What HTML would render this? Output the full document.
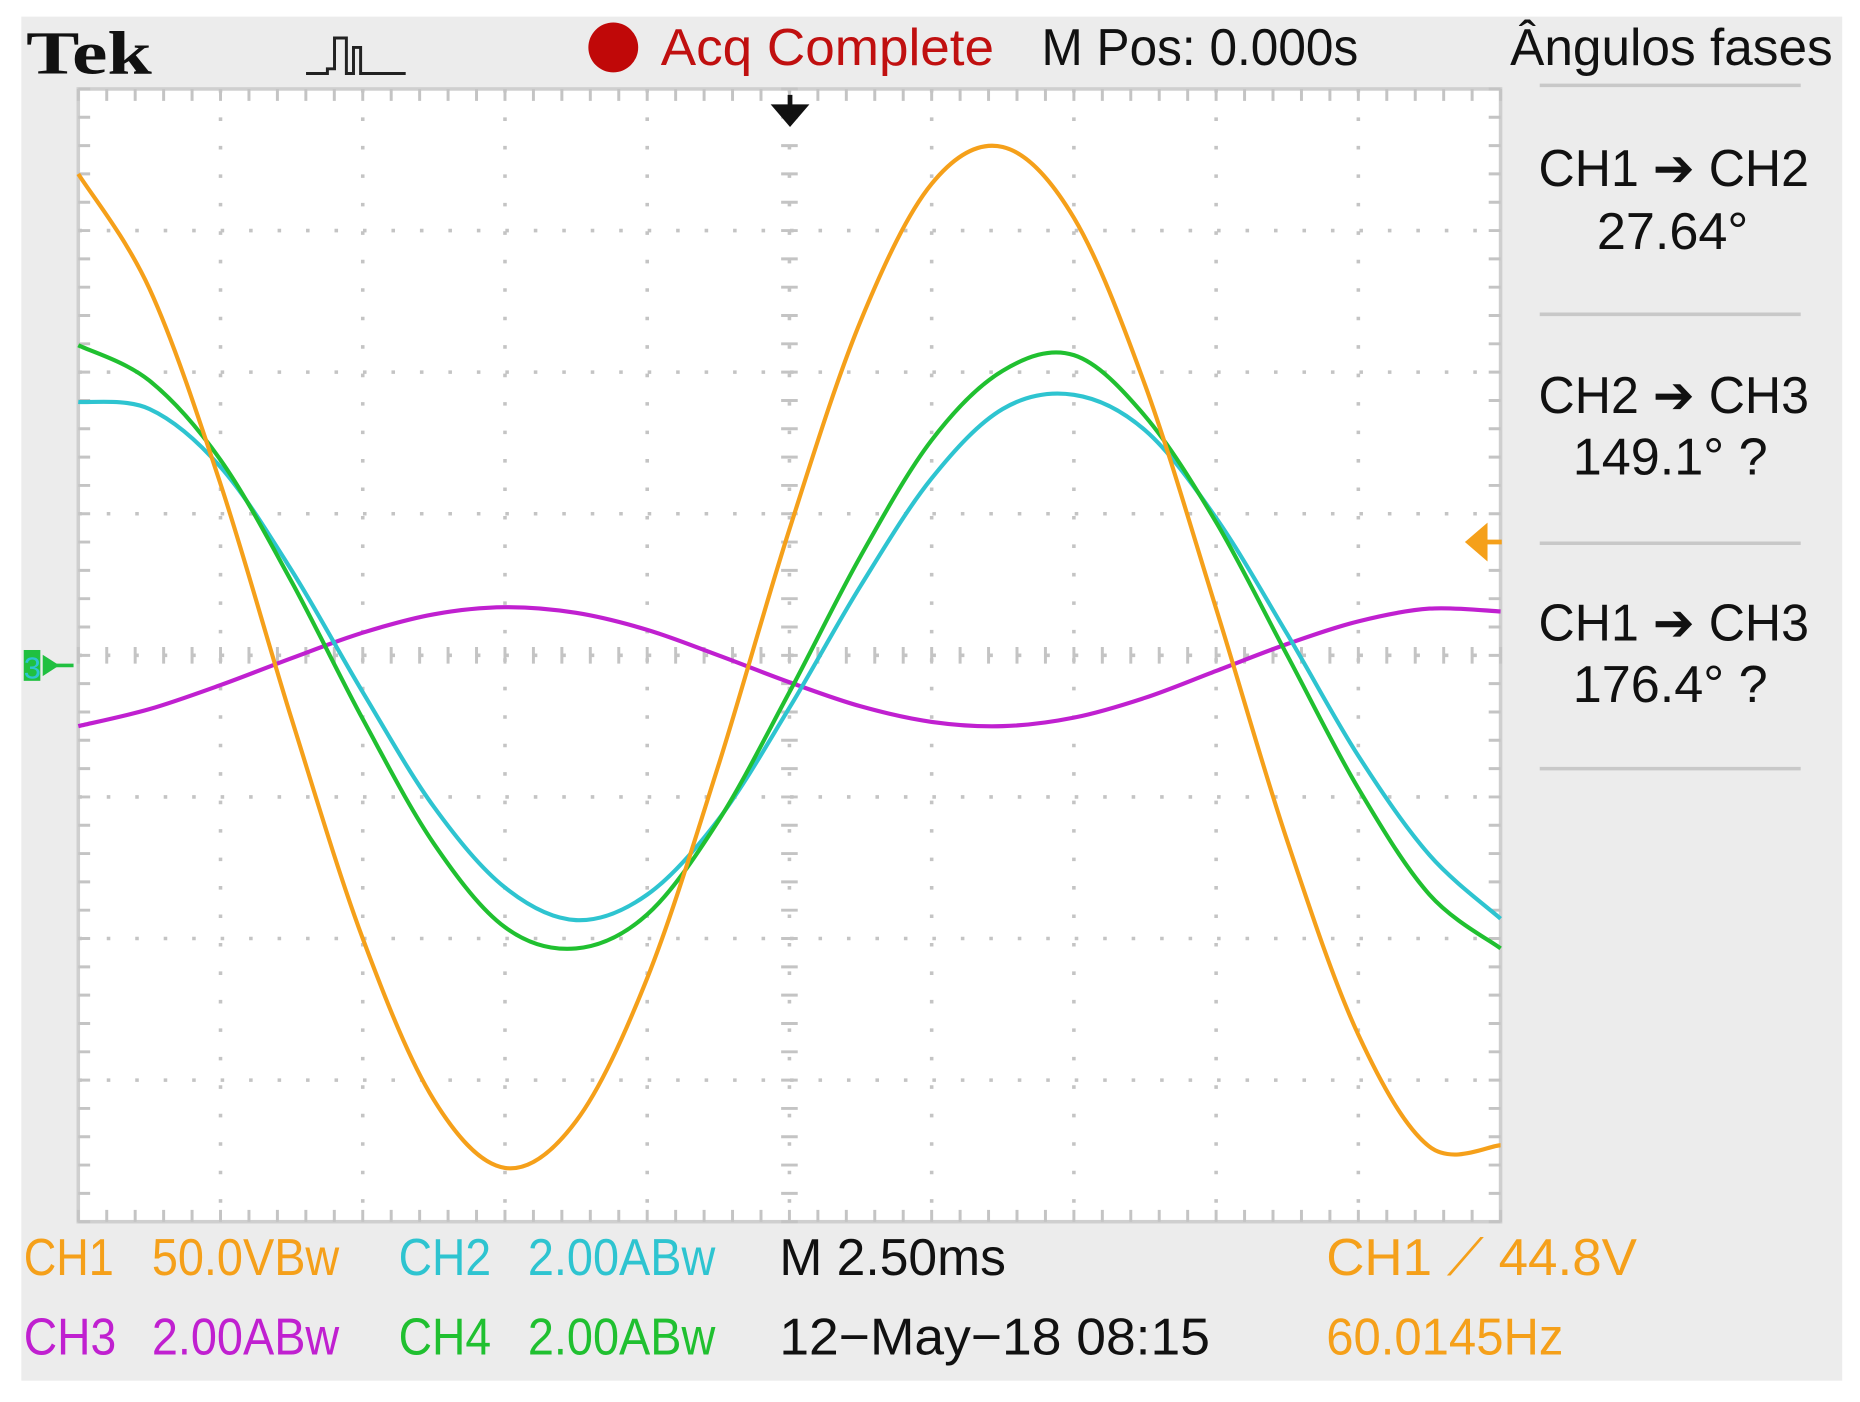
<!DOCTYPE html>
<html><head><meta charset="utf-8">
<style>
html,body{margin:0;padding:0;background:#fff;}
svg{display:block;}
text{font-family:"Liberation Sans Narrow","Liberation Sans",sans-serif;}
</style></head>
<body>
<svg id="scope" width="1860" height="1402" viewBox="0 0 1568 1182" preserveAspectRatio="none" xmlns="http://www.w3.org/2000/svg">
  <rect x="18" y="14" width="1535" height="1150" fill="#ececec"/>
  <rect x="66" y="75" width="1199" height="955" fill="#fff" stroke="#cfcfcf" stroke-width="3"/>
  <g id="grid"></g>
  <g id="traces"></g>

  <text x="22" y="62" font-family="Liberation Serif,serif" font-weight="bold" font-size="52" textLength="106" lengthAdjust="spacingAndGlyphs" fill="#111" style="font-family:'Liberation Serif',serif">Tek</text>
  <path d="M258 62 L276 62 L276 58 L282 58 L282 32 L292 32 L292 62 L298 62 L298 40 L304 40 L304 62 L342 62" fill="none" stroke="#222" stroke-width="2.5"/>
  <circle cx="517" cy="40" r="21" fill="#c00808"/>
  <text x="557" y="55" font-size="44" fill="#c01010" textLength="281" lengthAdjust="spacingAndGlyphs">Acq Complete</text>
  <text x="878" y="55" font-size="44" fill="#111" textLength="267" lengthAdjust="spacingAndGlyphs">M Pos: 0.000s</text>
  <text x="1273" y="55" font-size="44" fill="#111" textLength="272" lengthAdjust="spacingAndGlyphs">Ângulos fases</text>

  <g stroke="#c8c8c8" stroke-width="3">
    <line x1="1298" y1="72" x2="1518" y2="72"/>
    <line x1="1298" y1="265" x2="1518" y2="265"/>
    <line x1="1298" y1="458" x2="1518" y2="458"/>
    <line x1="1298" y1="648" x2="1518" y2="648"/>
  </g>
  <text x="1297" y="157" font-size="44" fill="#111" textLength="228" lengthAdjust="spacingAndGlyphs">CH1 ➔ CH2</text>
  <text x="1410" y="210" font-size="44" fill="#111" text-anchor="middle">27.64°</text>
  <text x="1297" y="348" font-size="44" fill="#111" textLength="228" lengthAdjust="spacingAndGlyphs">CH2 ➔ CH3</text>
  <text x="1408" y="400" font-size="44" fill="#111" text-anchor="middle">149.1° ?</text>
  <text x="1297" y="540" font-size="44" fill="#111" textLength="228" lengthAdjust="spacingAndGlyphs">CH1 ➔ CH3</text>
  <text x="1408" y="592" font-size="44" fill="#111" text-anchor="middle">176.4° ?</text>

  <path d="M666 80 L666 96 M654 90 L666 104 L678 90 Z" stroke="#111" stroke-width="4" fill="#111"/>
  <path d="M1238 457 L1252 445 L1252 469 Z M1250 457 L1266 457" stroke="#f5a01a" stroke-width="4" fill="#f5a01a"/>
  <g>
    <rect x="20" y="548" width="14" height="26" fill="#20c040"/>
    <path d="M36 552 L50 561 L36 570 Z" fill="#20c040"/>
    <line x1="44" y1="561" x2="62" y2="561" stroke="#20c040" stroke-width="3"/>
    <text x="20" y="572" font-size="26" fill="#2ec4d0">3</text>
  </g>

  <g font-size="44">
    <text x="20" y="1075" fill="#f5a01a" textLength="76" lengthAdjust="spacingAndGlyphs">CH1</text>
    <text x="128" y="1075" fill="#f5a01a" textLength="158" lengthAdjust="spacingAndGlyphs">50.0VBw</text>
    <text x="336" y="1075" fill="#2ec4d0" textLength="78" lengthAdjust="spacingAndGlyphs">CH2</text>
    <text x="445" y="1075" fill="#2ec4d0" textLength="158" lengthAdjust="spacingAndGlyphs">2.00ABw</text>
    <text x="657" y="1075" fill="#111" textLength="191" lengthAdjust="spacingAndGlyphs">M 2.50ms</text>
    <text x="1118" y="1075" fill="#f5a01a" textLength="262" lengthAdjust="spacingAndGlyphs">CH1 ⟋ 44.8V</text>
    <text x="20" y="1142" fill="#c020d0" textLength="78" lengthAdjust="spacingAndGlyphs">CH3</text>
    <text x="128" y="1142" fill="#c020d0" textLength="158" lengthAdjust="spacingAndGlyphs">2.00ABw</text>
    <text x="336" y="1142" fill="#20c030" textLength="78" lengthAdjust="spacingAndGlyphs">CH4</text>
    <text x="445" y="1142" fill="#20c030" textLength="158" lengthAdjust="spacingAndGlyphs">2.00ABw</text>
    <text x="657" y="1142" fill="#111" textLength="363" lengthAdjust="spacingAndGlyphs">12−May−18 08:15</text>
    <text x="1118" y="1142" fill="#f5a01a" textLength="200" lengthAdjust="spacingAndGlyphs">60.0145Hz</text>
  </g>
</svg>
<script>
// time in divisions (0..10), values in vertical divisions
const timeDivs = [0,0.5,1,1.5,2,2.5,3,3.5,4,4.5,5,5.5,6,6.5,7,7.5,8,8.5,9,9.5,10];
const ch1Values = [3.40,2.59,1.21,-0.45,-2.00,-3.14,-3.62,-3.29,-2.28,-0.78,0.89,2.36,3.33,3.59,3.09,1.91,0.33,-1.31,-2.68,-3.47,-3.46];
const ch2Values = [1.79,1.74,1.33,0.60,-0.26,-1.07,-1.64,-1.87,-1.69,-1.16,-0.37,0.49,1.25,1.74,1.84,1.59,0.97,0.15,-0.71,-1.41,-1.86];
const ch3Values = [-0.50,-0.38,-0.21,-0.02,0.16,0.29,0.34,0.30,0.18,0.00,-0.19,-0.36,-0.47,-0.50,-0.44,-0.30,-0.11,0.08,0.24,0.33,0.31];
const ch4Values = [2.19,1.94,1.38,0.52,-0.45,-1.33,-1.92,-2.07,-1.83,-1.17,-0.26,0.70,1.52,2.01,2.12,1.69,0.94,0.00,-0.94,-1.69,-2.07];

const NS = "http://www.w3.org/2000/svg";
const X0 = 66, X1 = 1265, Y0 = 75, Y1 = 1030;
const xScale = t => X0 + t * (X1 - X0) / 10;
const yScale = v => (Y0 + Y1) / 2 - v * (Y1 - Y0) / 8;

// graticule
const grid = document.getElementById('grid');
let d = '';
for (let i = 1; i < 10; i++) { d += `M${xScale(i)} ${Y0} L${xScale(i)} ${Y1} `; }
for (let j = 1; j < 8; j++) { const y = Y0 + j * (Y1 - Y0) / 8; d += `M${X0} ${y} L${X1} ${y} `; }
const gp = document.createElementNS(NS, 'path');
gp.setAttribute('d', d);
gp.setAttribute('stroke', '#c4c4c4');
gp.setAttribute('stroke-width', '3');
gp.setAttribute('stroke-dasharray', '3 21');
gp.setAttribute('fill', 'none');


grid.appendChild(gp);
let t = '';
const cx = xScale(5), cy = yScale(0);
for (let k = 0; k <= 50; k++) { const x = X0 + k * (X1 - X0) / 50; t += `M${x} ${cy-7} L${x} ${cy+7} M${x} ${Y1} L${x} ${Y1-10} M${x} ${Y0} L${x} ${Y0+10} `; }
for (let k = 0; k <= 40; k++) { const y = Y0 + k * (Y1 - Y0) / 40; t += `M${cx-7} ${y} L${cx+7} ${y} M${X0} ${y} L${X0+10} ${y} M${X1} ${y} L${X1-10} ${y} `; }
const tp = document.createElementNS(NS, 'path');
tp.setAttribute('d', t);
tp.setAttribute('stroke', '#c4c4c4');
tp.setAttribute('stroke-width', '2.5');
tp.setAttribute('fill', 'none');


grid.appendChild(tp);

function smoothPath(xs, ys) {
  const p = xs.map((x, i) => [xScale(x), yScale(ys[i])]);
  let s = `M${p[0][0]} ${p[0][1]}`;
  for (let i = 0; i < p.length - 1; i++) {
    const a = p[i - 1] || p[i], b = p[i], c = p[i + 1], e = p[i + 2] || c;
    const c1 = [b[0] + (c[0] - a[0]) / 6, b[1] + (c[1] - a[1]) / 6];
    const c2 = [c[0] - (e[0] - b[0]) / 6, c[1] - (e[1] - b[1]) / 6];
    s += ` C${c1[0]} ${c1[1]} ${c2[0]} ${c2[1]} ${c[0]} ${c[1]}`;
  }
  return s;
}
const traces = document.getElementById('traces');
function addTrace(vals, color, name) {
  const el = document.createElementNS(NS, 'path');
  el.setAttribute('d', smoothPath(timeDivs, vals));
  el.setAttribute('stroke', color);
  el.setAttribute('stroke-width', '3.5');
  el.setAttribute('fill', 'none');
  
  
  traces.appendChild(el);
}
addTrace(ch3Values, '#c020d0', 'ch3-trace');
addTrace(ch2Values, '#2ec4d0', 'ch2-trace');
addTrace(ch4Values, '#20c030', 'ch4-trace');
addTrace(ch1Values, '#f5a01a', 'ch1-trace');
</script>
</body></html>
